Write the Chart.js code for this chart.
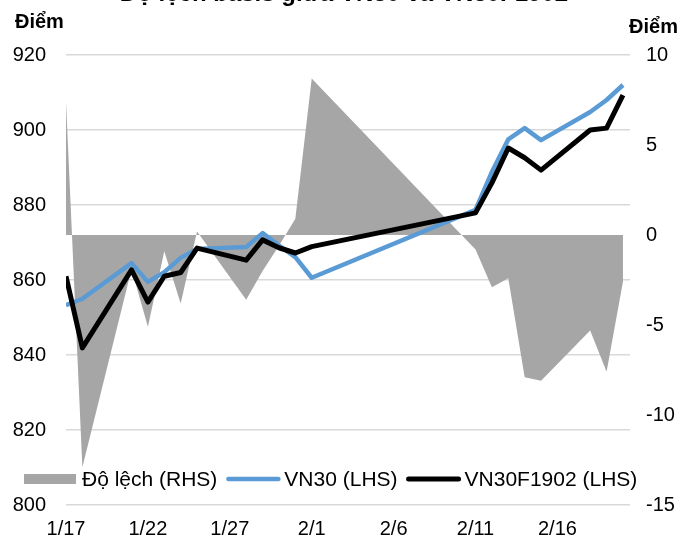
<!DOCTYPE html>
<html>
<head>
<meta charset="utf-8">
<script src="https://cdn.jsdelivr.net/npm/chart.js@4.4.1/dist/chart.umd.min.js"></script>
<style>
  html, body { margin: 0; padding: 0; background: #fff; }
  #wrap { position: relative; width: 684px; height: 539px; overflow: hidden; }
</style>
</head>
<body>
<div id="wrap"><canvas id="c" width="684" height="539"></canvas></div>
<script>
// trading days (2019)
const dates = ['2019-01-17', '2019-01-18', '2019-01-21', '2019-01-22', '2019-01-23', '2019-01-24', '2019-01-25',
  '2019-01-28', '2019-01-29', '2019-01-30', '2019-01-31', '2019-02-01',
  '2019-02-11', '2019-02-12', '2019-02-13', '2019-02-14', '2019-02-15',
  '2019-02-18', '2019-02-19', '2019-02-20']
const vn30 = [853.3, 855.0, 864.5, 859.5, 862.1, 865.9, 868.3, 868.8, 872.5, 869.2, 866.1, 860.6,
  878.7, 888.8, 897.5, 900.5, 897.3, 904.8, 908.0, 912.0]
const vn30f = [861.0, 841.9, 862.7, 854.1, 861.0, 862.0, 868.5, 865.3, 870.7, 868.6, 867.2, 868.9,
  877.9, 885.9, 895.2, 892.6, 889.3, 900.0, 900.5, 909.3]
const basis = [7.4, -12.9, -1.9, -5.1, -0.9, -3.8, 0.2, -3.6, -2.0, -0.6, 0.9, 8.7,
  -0.8, -2.9, -2.4, -7.9, -8.1, -5.3, -7.6, -2.6]
const tickDates = ['2019-01-17', '2019-01-22', '2019-01-27', '2019-02-01', '2019-02-06', '2019-02-11', '2019-02-16']
const tickLabels = ['1/17', '1/22', '1/27', '2/1', '2/6', '2/11', '2/16']
const title = 'Độ lệch basis giữa VN30 và VN30F1902'
const leftTitle = 'Điểm'
const rightTitle = 'Điểm'

const FONT = "'Liberation Sans', Arial, sans-serif"
const DAY = 86400000
const start = Date.parse(dates[0])
const dayOf = (d) => (Date.parse(d) - start) / DAY
const pts = (arr) => arr.map((v, i) => ({ x: dayOf(dates[i]), y: v }))

const extras = {
  id: 'extras',
  afterDraw(chart) {
    const ctx = chart.ctx
    ctx.save()
    ctx.fillStyle = '#000'
    ctx.textBaseline = 'alphabetic'
    ctx.textAlign = 'center'
    ctx.font = 'bold 24px ' + FONT
    ctx.fillText(title, 344, 1)
    ctx.font = 'bold 20px ' + FONT
    ctx.textAlign = 'left'
    ctx.fillText(leftTitle, 15, 28)
    ctx.textAlign = 'right'
    ctx.fillText(rightTitle, 678, 33)

    // legend inside plot
    ctx.font = '21px ' + FONT
    ctx.textAlign = 'left'
    ctx.textBaseline = 'middle'
    let x = 24
    const y = 479
    chart.data.datasets.forEach((ds) => {
      if (ds.fill) {
        ctx.fillStyle = ds.backgroundColor
        ctx.fillRect(x, y - 5, 52, 10)
      } else {
        ctx.strokeStyle = ds.borderColor
        ctx.lineWidth = ds.borderWidth
        ctx.lineCap = 'round'
        ctx.beginPath()
        ctx.moveTo(x + 2, y)
        ctx.lineTo(x + 52, y)
        ctx.stroke()
      }
      x += 58
      ctx.fillStyle = '#000'
      ctx.fillText(ds.label, x, y + 1)
      x += ctx.measureText(ds.label).width + 9
    })
    ctx.restore()
  },
}

new Chart(document.getElementById('c'), {
  type: 'line',
  data: {
    datasets: [
      {
        label: 'Độ lệch (RHS)',
        data: pts(basis),
        yAxisID: 'y1',
        borderWidth: 0,
        borderColor: 'rgba(0,0,0,0)',
        backgroundColor: '#a6a6a6',
        fill: 'origin',
        pointRadius: 0,
        order: 3,
      },
      {
        label: 'VN30 (LHS)',
        data: pts(vn30),
        yAxisID: 'y',
        borderColor: '#5b9bd5',
        borderWidth: 4.5,
        borderJoinStyle: 'round',
        pointRadius: 0,
        fill: false,
        order: 2,
      },
      {
        label: 'VN30F1902 (LHS)',
        data: pts(vn30f),
        yAxisID: 'y',
        borderColor: '#000000',
        borderWidth: 5,
        borderJoinStyle: 'round',
        pointRadius: 0,
        fill: false,
        order: 1,
      },
    ],
  },
  options: {
    responsive: false,
    animation: false,
    devicePixelRatio: 1,
    layout: { padding: { top: 55, left: 0, right: 0, bottom: 0 } },
    plugins: {
      legend: { display: false },
      title: { display: false },
      tooltip: { enabled: false },
    },
    scales: {
      x: {
        type: 'linear',
        min: 0,
        max: 34.43,
        grid: { display: false },
        border: { display: false },
        afterBuildTicks: (scale) => {
          scale.ticks = tickDates.map((d) => ({ value: dayOf(d) }))
        },
        afterFit: (scale) => { scale.height = 34 },
        ticks: {
          autoSkip: false,
          maxRotation: 0,
          padding: 4,
          color: '#000',
          font: { family: FONT, size: 20 },
          callback: (value) => {
            const i = tickDates.findIndex((d) => dayOf(d) === value)
            return i >= 0 ? tickLabels[i] : ''
          },
        },
      },
      y: {
        position: 'left',
        min: 800,
        max: 920,
        grid: { color: '#d9d9d9', lineWidth: 1.5, drawTicks: false },
        border: { display: false },
        afterFit: (scale) => { scale.width = 66 },
        ticks: {
          stepSize: 20,
          padding: 20,
          color: '#000',
          font: { family: FONT, size: 20 },
        },
      },
      y1: {
        position: 'right',
        min: -15,
        max: 10,
        grid: { display: false, drawTicks: false },
        border: { display: false },
        afterFit: (scale) => { scale.width = 54 },
        ticks: {
          stepSize: 5,
          padding: 16,
          color: '#000',
          font: { family: FONT, size: 20 },
        },
      },
    },
  },
  plugins: [extras],
})
</script>
</body>
</html>
